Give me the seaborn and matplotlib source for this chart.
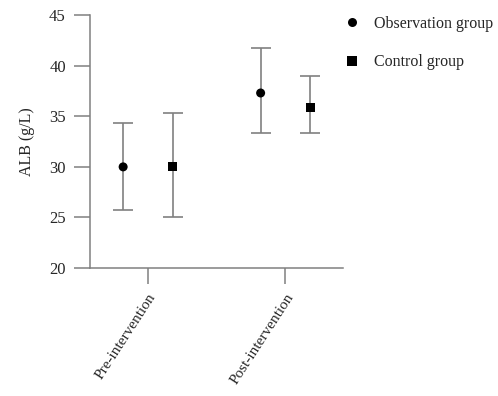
import numpy as np
import pandas as pd
import matplotlib
matplotlib.use("Agg")
import matplotlib.pyplot as plt
import seaborn as sns

# values
phases = ["Pre-intervention", "Post-intervention"]
groups = ["Observation group", "Control group"]
obs_mean = [30.0, 37.3]
obs_low = [25.7, 33.3]
obs_high = [34.3, 41.7]
ctl_mean = [30.0, 35.9]
ctl_low = [25.0, 33.3]
ctl_high = [35.3, 39.0]
y_ticks = [20, 25, 30, 35, 40, 45]

sns.set_theme(style="ticks")
plt.rcParams["font.family"] = ["Liberation Serif", "DejaVu Serif"]

rows = []
for i, ph in enumerate(phases):
    rows.append((ph, i, groups[0], obs_mean[i], obs_low[i], obs_high[i]))
    rows.append((ph, i, groups[1], ctl_mean[i], ctl_low[i], ctl_high[i]))
df = pd.DataFrame(rows, columns=["phase", "idx", "group", "mean", "low", "high"])
offset = {groups[0]: -0.18, groups[1]: 0.18}
df["xpos"] = df["idx"] + df["group"].map(offset)

fig = plt.figure(figsize=(4.98, 3.96), dpi=100)
ax = fig.add_axes([0.181, 0.323, 0.508, 0.639])

gray = "#808080"
ax.errorbar(df["xpos"], df["mean"],
            yerr=[df["mean"] - df["low"], df["high"] - df["mean"]],
            fmt="none", ecolor=gray, elinewidth=1.2, capsize=7, capthick=1.2,
            zorder=1)
sns.scatterplot(data=df, x="xpos", y="mean", style="group", hue="group",
                markers={groups[0]: "o", groups[1]: "s"},
                palette={groups[0]: "black", groups[1]: "black"},
                s=42, edgecolor="black", linewidth=0, ax=ax, zorder=2)

ax.set_xlim(-0.42, 1.42)
ax.set_ylim(20, 45)
ax.set_yticks(y_ticks)
ax.set_xticks(range(len(phases)))
ax.set_xticklabels(phases, rotation=57, ha="right", rotation_mode="anchor",
                   fontsize=11)
ax.tick_params(axis="y", labelsize=12, length=11.5, width=1.1, color=gray, pad=6)
ax.tick_params(axis="x", length=11.5, width=1.1, color=gray, pad=5)
ax.set_xlabel("")
ax.set_ylabel("ALB (g/L)", fontsize=11.5, labelpad=10)

for side in ["top", "right"]:
    ax.spines[side].set_visible(False)
for side in ["left", "bottom"]:
    ax.spines[side].set_color(gray)
    ax.spines[side].set_linewidth(1.1)

ax.legend(loc="upper left", bbox_to_anchor=(337.6 / 498, 0.976),
          bbox_transform=fig.transFigure, borderaxespad=0, frameon=False,
          fontsize=11.5, labelspacing=1.4, handlelength=1.0,
          handletextpad=0.9, title=None)

fig.savefig("out.png", dpi=100)
